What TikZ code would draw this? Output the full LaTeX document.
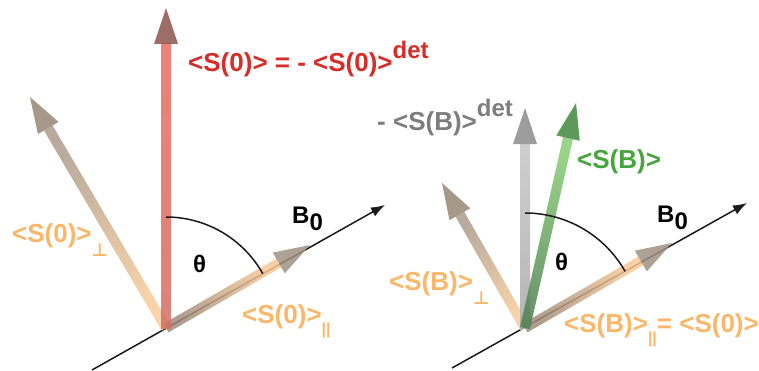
\documentclass[tikz,border=0pt]{standalone}
\usepackage{fontspec}
\setmainfont{Liberation Sans}
\newfontfamily\symbolfont{DejaVu Sans}
\usetikzlibrary{arrows.meta,calc}
\definecolor{SpinRed}{RGB}{215,45,40}
\definecolor{SpinOrange}{RGB}{251,183,105}
\definecolor{SpinGreen}{RGB}{70,165,60}
\definecolor{SpinGray}{RGB}{125,125,125}
\definecolor{RedTail}{RGB}{212,110,100}
\definecolor{RedTip}{RGB}{232,108,98}
\definecolor{RedHead}{RGB}{140,85,75}
\definecolor{PerpTail}{RGB}{248,205,155}
\definecolor{PerpTip}{RGB}{172,156,140}
\definecolor{PerpHead}{RGB}{150,135,118}
\definecolor{ParTail}{RGB}{160,140,125}
\definecolor{ParTip}{RGB}{246,200,150}
\definecolor{ParHead}{RGB}{160,145,130}
\definecolor{GrayTail}{RGB}{168,168,168}
\definecolor{GrayTip}{RGB}{198,198,198}
\definecolor{GrayHead}{RGB}{140,140,140}
\definecolor{GreenTail}{RGB}{80,128,80}
\definecolor{GreenTip}{RGB}{135,205,115}
\definecolor{GreenHead}{RGB}{65,135,60}
\tikzset{
  spin/text/.style={anchor=base west, inner sep=0pt, font=\fontsize{26}{30}\selectfont\bfseries},
  spin/small/.style={anchor=base west, inner sep=0pt, font=\fontsize{24}{28}\selectfont\bfseries},
  spin/axis/.style={-{Latex[length=14pt,width=10pt]}, line width=1.5pt, draw=black!90},
  spin/arc/.style={line width=1.5pt, draw=black!90}
}
% shaded shaft plus cone: tail, tip, tail colour, tip colour, head colour
\newcommand\spinvec[5]{%
  \path let \p1=($(#2)-(#1)$), \n1={atan2(\y1,\x1)-90} in \pgfextra{\xdef\spinangle{\n1}};
  \coordinate (hb) at ($(#2)!36pt!(#1)$);
  \shade[bottom color=#3, top color=#4, shading angle=\spinangle, opacity=.85]
    ($(#1)!5pt!90:(#2)$) -- ($(#1)!5pt!-90:(#2)$) -- ($(hb)!5pt!90:(#1)$) -- ($(hb)!5pt!-90:(#1)$) -- cycle;
  \fill[#5, opacity=.85] ($(hb)!12pt!90:(#2)$) -- (#2) -- ($(hb)!12pt!-90:(#2)$) -- cycle;
}
\newcommand\spindet{\raisebox{13pt}{\fontsize{24}{24}\selectfont det}}
\newcommand\spinperp{\raisebox{-14pt}{\fontsize{18}{18}\selectfont\symbolfont ⊥}}
\newcommand\spinpar{\raisebox{-11pt}{\fontsize{16}{16}\selectfont ||}}

\begin{document}
\begin{tikzpicture}[x=1pt,y=1pt]
  \useasboundingbox (0,0) rectangle (759,370);
  % left: spin at time zero
  \coordinate (o1) at (166,42);
  \coordinate (r1) at (166,362);
  \coordinate (p1) at (30,273);
  \coordinate (q1) at (310,125);
  \coordinate (a1s) at (92,0);
  \coordinate (a1e) at (385,165);
  \coordinate (th1) at ($(o1)+(0,111)$);
  \draw[spin/axis] (a1s) -- (a1e);
  \spinvec{o1}{p1}{PerpTail}{PerpTip}{PerpHead}
  \spinvec{o1}{q1}{ParTail}{ParTip}{ParHead}
  \spinvec{o1}{r1}{RedTail}{RedTip}{RedHead}
  \draw[spin/arc] (th1) arc[start angle=90, end angle=29.3, radius=111];
  \node[spin/text, text=SpinRed] (s0) at (188,298) {<S(0)> = - <S(0)>\spindet};
  \node[spin/text, text=SpinOrange] (s0perp) at (12,128) {<S(0)>\spinperp};
  \node[spin/text, text=SpinOrange] (s0par) at (242,47) {<S(0)>\spinpar};
  \node[spin/small] (theta1) at (193,98) {θ};
  \node[spin/small] (b1) at (292,147) {B\raisebox{-7pt}{0}};
  % right: spin in the field
  \coordinate (o2) at (525,42);
  \coordinate (g2) at (525,262);
  \coordinate (s2) at (576,267);
  \coordinate (p2) at (442,187);
  \coordinate (q2) at (672,127);
  \coordinate (a2s) at (452,2);
  \coordinate (a2e) at (747,167);
  \coordinate (th2) at ($(o2)+(0,115)$);
  \draw[spin/axis] (a2s) -- (a2e);
  \spinvec{o2}{p2}{PerpTail}{PerpTip}{PerpHead}
  \spinvec{o2}{q2}{ParTail}{ParTip}{ParHead}
  \spinvec{o2}{g2}{GrayTail}{GrayTip}{GrayHead}
  \spinvec{o2}{s2}{GreenTail}{GreenTip}{GreenHead}
  \draw[spin/arc] (th2) arc[start angle=90, end angle=29.5, radius=115];
  \node[spin/text, text=SpinGray] (sdet) at (377,240) {- <S(B)>\spindet};
  \node[spin/text, text=SpinGreen] (sb) at (577,202) {<S(B)>};
  \node[spin/text, text=SpinOrange] (sbperp) at (389,80) {<S(B)>\spinperp};
  \node[spin/text, text=SpinOrange] (sbpar) at (564,38) {<S(B)>\spinpar= <S(0)>\spinpar};
  \node[spin/small] (theta2) at (555,100) {θ};
  \node[spin/small] (b2) at (657,148) {B\raisebox{-7pt}{0}};
\end{tikzpicture}
\end{document}
